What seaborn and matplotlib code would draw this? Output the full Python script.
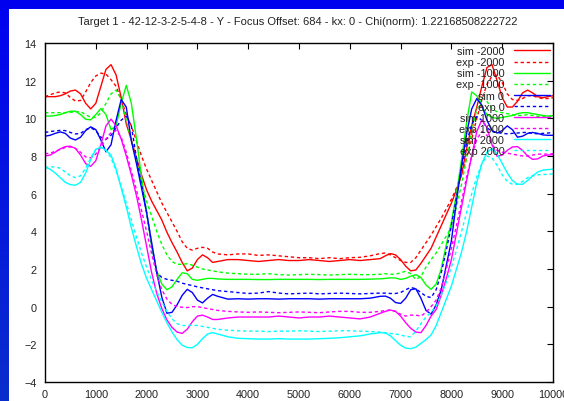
import numpy as np
import matplotlib
matplotlib.use("Agg")
import matplotlib.pyplot as plt
from matplotlib.colors import LinearSegmentedColormap
from matplotlib.patches import Rectangle
import seaborn as sns

TITLE = "Target 1 - 42-12-3-2-5-4-8 - Y - Focus Offset: 684 - kx: 0 - Chi(norm): 1.22168508222722"

# scan position (nm); finer sampling near the edges of the trench
x_pos = [0, 100, 200, 300, 400, 500, 600, 700, 800, 900, 1000, 1100, 1200, 1300, 1400, 1500, 1600,
         1700, 1800, 1900, 2000, 2100, 2200, 2300, 2400, 2500, 2600, 2700, 2800, 2900, 3000, 3100,
         3200, 3300, 3400,
         3600, 3800, 4000, 4200, 4400, 4600, 4800, 5000, 5200, 5400, 5600, 5800, 6000, 6200, 6400,
         6600, 6700, 6800, 6900, 7000, 7100, 7200, 7300, 7400, 7500, 7600, 7700, 7800, 7900, 8000,
         8100, 8200, 8300, 8400, 8500, 8600, 8700, 8800, 8900, 9000, 9100, 9200, 9300, 9400, 9500,
         9600, 9700, 9800, 9900, 10000]

sim_m2000 = [11.15, 11.15, 11.15, 11.2, 11.3, 11.45, 11.5, 11.3, 10.8, 10.5, 10.8, 11.7, 12.6, 12.85, 12.3,
             11.1, 9.7, 8.85, 7.9, 7.0, 6.2, 5.6, 5.1, 4.6, 3.95, 3.4, 2.9, 2.35, 1.9, 2.05, 2.5, 2.75,
             2.6, 2.35, 2.4,
             2.5, 2.5, 2.45, 2.4, 2.45, 2.5, 2.45, 2.45, 2.5, 2.45, 2.4, 2.45, 2.5, 2.45, 2.5,
             2.55, 2.7, 2.82, 2.75, 2.5, 2.15, 1.9, 1.95, 2.3, 2.7, 3.1, 3.7, 4.3, 4.9, 5.5, 6.2, 7.0,
             8.4, 9.6, 10.6, 11.7, 12.7, 12.85, 12.0, 11.1, 10.6, 10.6, 10.9, 11.35, 11.5, 11.35, 11.15,
             11.1, 11.15, 11.2]
exp_m2000 = [11.15, 11.25, 11.35, 11.4, 11.35, 11.1, 10.92, 10.95, 11.4, 11.9, 12.25, 12.4, 12.35, 12.05,
             11.7, 11.0, 10.2, 9.6, 8.8, 8.0, 7.3, 6.7, 6.1, 5.5, 5.0, 4.5, 4.0, 3.45, 3.1, 3.0, 3.1,
             3.15, 3.1, 2.9, 2.8,
             2.75, 2.8, 2.8, 2.72, 2.75, 2.7, 2.65, 2.6, 2.6, 2.55, 2.6, 2.55, 2.6, 2.62, 2.7,
             2.82, 2.85, 2.75, 2.6, 2.45, 2.35, 2.35, 2.6, 3.0, 3.4, 3.8, 4.25, 4.7, 5.2, 5.7, 6.3, 7.0,
             7.9, 8.9, 10.0, 11.0, 11.8, 12.25, 12.3, 11.9, 11.3, 11.0, 10.95, 11.05, 11.2, 11.2, 11.1,
             11.05, 11.05, 11.1]
sim_m1000 = [10.12, 10.12, 10.15, 10.2, 10.3, 10.38, 10.38, 10.2, 9.95, 9.92, 10.2, 10.52, 10.2, 9.4, 9.6,
             10.8, 11.75, 10.8, 8.9, 6.9, 5.0, 3.2, 1.9, 1.2, 0.9, 1.05, 1.45, 1.8, 1.75, 1.45, 1.4,
             1.45, 1.5, 1.5, 1.47,
             1.45, 1.45, 1.45, 1.44, 1.44, 1.45, 1.45, 1.45, 1.45, 1.44, 1.45, 1.45, 1.45, 1.45, 1.46,
             1.48, 1.5, 1.53, 1.52, 1.45, 1.5, 1.62, 1.7, 1.55, 1.15, 0.92, 1.2, 2.0, 3.3, 4.5, 6.0, 7.8,
             9.8, 11.4, 11.2, 10.6, 10.2, 10.05, 10.0, 10.05, 10.1, 10.15, 10.25, 10.3, 10.3, 10.25,
             10.2, 10.15, 10.12, 10.14]
exp_m1000 = [10.3, 10.3, 10.3, 10.3, 10.3, 10.32, 10.35, 10.35, 10.2, 10.05, 10.05, 10.3, 10.8, 11.3, 11.5,
             11.0, 9.9, 8.8, 7.7, 6.6, 5.6, 4.8, 4.0, 3.3, 2.75, 2.4, 2.25, 2.25, 2.28, 2.2, 2.1, 2.0,
             1.95, 1.9, 1.85,
             1.78, 1.75, 1.72, 1.72, 1.75, 1.7, 1.68, 1.7, 1.72, 1.7, 1.68, 1.7, 1.72, 1.7, 1.7,
             1.72, 1.75, 1.72, 1.72, 1.8, 1.88, 1.75, 1.45, 1.6, 2.1, 2.5, 2.85, 3.3, 3.75, 4.2, 5.3,
             6.5, 7.9, 9.3, 10.5, 11.1, 10.9, 10.5, 10.35, 10.3, 10.25, 10.2, 10.15, 10.15, 10.2, 10.15,
             10.1, 10.1, 10.1, 10.12]
sim_0 = [9.05, 9.1, 9.2, 9.28, 9.2, 8.95, 8.85, 9.0, 9.35, 9.55, 9.4, 8.85, 8.22, 8.6, 9.9, 11.0, 10.6,
         8.8, 7.6, 6.3, 5.0, 3.4, 1.8, 0.5, -0.35, -0.3, 0.1, 0.6, 0.92, 0.75, 0.35, 0.2, 0.45, 0.65,
         0.55,
         0.4, 0.42, 0.4, 0.42, 0.42, 0.4, 0.42, 0.42, 0.42, 0.4, 0.42, 0.42, 0.42, 0.42, 0.45,
         0.55, 0.56, 0.45, 0.22, 0.17, 0.45, 0.9, 0.95, 0.45, -0.2, -0.4, 0.1, 0.9, 2.2, 3.5, 5.6, 7.5,
         9.2, 10.5, 11.05, 10.7, 9.9, 9.35, 9.22, 9.35, 9.6, 9.4, 9.0, 9.05, 9.2, 9.25, 9.2, 9.12, 9.1,
         9.1]
exp_0 = [9.25, 9.3, 9.33, 9.36, 9.35, 9.25, 9.17, 9.2, 9.4, 9.5, 9.35, 9.0, 8.88, 9.1, 9.5, 9.9, 10.12,
         9.6, 7.9, 6.5, 5.0, 3.3, 1.8, 1.55, 1.45, 1.4, 1.35, 1.25, 1.18, 1.12, 1.05, 1.0, 0.95, 0.9,
         0.85,
         0.8, 0.75, 0.7, 0.72, 0.8, 0.72, 0.68, 0.7, 0.72, 0.68, 0.7, 0.72, 0.7, 0.68, 0.7,
         0.72, 0.72, 0.7, 0.7, 0.75, 0.9, 1.02, 0.95, 0.75, 0.55, 0.48, 0.9, 1.8, 3.0, 4.3, 5.8, 7.3,
         8.7, 9.7, 10.1, 9.9, 9.5, 9.3, 9.25, 9.2, 9.18, 9.2, 9.22, 9.25, 9.25, 9.2, 9.18, 9.2, 9.22,
         9.25]
sim_1000 = [8.0, 8.05, 8.2, 8.38, 8.5, 8.52, 8.4, 8.05, 7.6, 7.45, 7.75, 8.6, 9.6, 9.96, 9.6, 8.9, 8.0,
            7.0, 5.9, 4.6, 3.2, 1.8, 0.7, -0.1, -0.7, -1.1, -1.35, -1.42, -1.2, -0.8, -0.5, -0.45,
            -0.55, -0.68, -0.68,
            -0.6, -0.55, -0.55, -0.55, -0.55, -0.5, -0.55, -0.6, -0.55, -0.55, -0.5, -0.55, -0.6,
            -0.65, -0.55,
            -0.35, -0.25, -0.18, -0.25, -0.5, -0.85, -1.15, -1.35, -1.38, -1.0, -0.5, -0.15, 0.6, 1.5,
            2.5, 3.9, 5.3, 6.7, 8.0, 9.3, 9.93, 9.5, 8.6, 7.98, 8.05, 8.3, 8.48, 8.5, 8.3, 8.0, 7.82,
            7.85, 8.0, 8.05, 8.07]
exp_1000 = [8.12, 8.15, 8.25, 8.35, 8.45, 8.48, 8.4, 8.2, 7.95, 7.9, 8.1, 8.5, 8.9, 9.25, 9.35, 9.0, 8.2,
            7.2, 6.2, 5.1, 4.0, 2.8, 1.7, 0.9, 0.4, 0.12, 0.0, -0.03, -0.05, 0.0, 0.0, -0.05, -0.1,
            -0.15, -0.2,
            -0.25, -0.28, -0.3, -0.28, -0.3, -0.32, -0.3, -0.28, -0.3, -0.32, -0.28, -0.25, -0.25,
            -0.3, -0.3,
            -0.25, -0.2, -0.18, -0.25, -0.4, -0.5, -0.45, -0.45, -0.5, -0.3, 0.0, 0.35, 1.0, 2.0, 3.1,
            4.3, 5.6, 6.9, 8.0, 8.9, 9.3, 9.1, 8.6, 8.3, 8.2, 8.15, 8.1, 8.05, 8.0, 8.0, 8.05, 8.1, 8.1,
            8.1, 8.12]
sim_2000 = [7.4, 7.3, 7.1, 6.85, 6.6, 6.48, 6.45, 6.6, 7.1, 7.8, 8.35, 8.48, 8.3, 8.05, 7.3, 6.3, 5.3,
            4.2, 3.2, 2.25, 1.5, 0.9, 0.3, -0.3, -0.85, -1.35, -1.75, -2.05, -2.17, -2.18, -2.0, -1.7,
            -1.45, -1.38, -1.45,
            -1.6, -1.68, -1.7, -1.72, -1.72, -1.7, -1.72, -1.72, -1.72, -1.7, -1.68, -1.65, -1.6,
            -1.55, -1.45,
            -1.38, -1.4, -1.55, -1.8, -2.05, -2.2, -2.23, -2.15, -1.95, -1.75, -1.5, -1.0, -0.3, 0.4,
            1.1, 2.0, 2.9, 4.0, 5.3, 6.6, 7.6, 8.2, 8.4, 8.1, 7.6, 7.1, 6.7, 6.5, 6.5, 6.7, 6.95, 7.15,
            7.25, 7.28, 7.3]
exp_2000 = [7.4, 7.42, 7.42, 7.35, 7.15, 6.95, 6.85, 6.95, 7.35, 7.9, 8.35, 8.45, 8.3, 7.9, 7.2, 6.4,
            5.5, 4.6, 3.7, 2.85, 2.1, 1.4, 0.8, 0.25, -0.25, -0.65, -0.9, -1.0, -1.0, -0.98, -1.0,
            -1.05, -1.1, -1.15, -1.2,
            -1.25, -1.28, -1.3, -1.3, -1.32, -1.3, -1.3, -1.28, -1.3, -1.32, -1.3, -1.28, -1.28,
            -1.3, -1.32,
            -1.35, -1.38, -1.42, -1.45, -1.5, -1.58, -1.6, -1.3, -0.9, -0.55, -0.3, 0.05, 0.6, 1.3,
            2.1, 3.0, 4.0, 5.0, 6.0, 6.9, 7.6, 8.0, 7.9, 7.5, 7.0, 6.65, 6.5, 6.5, 6.65, 6.85, 6.95,
            7.0, 7.02, 7.02, 7.05]

labels = ["sim -2000", "exp -2000", "sim -1000", "exp -1000", "sim 0", "exp 0",
          "sim 1000", "exp 1000", "sim 2000", "exp 2000"]
profiles = [sim_m2000, exp_m2000, sim_m1000, exp_m1000, sim_0, exp_0,
            sim_1000, exp_1000, sim_2000, exp_2000]
colors = ["#ff0000", "#ff0000", "#00ff00", "#00ff00", "#0000ff", "#0000ff",
          "#ff00ff", "#ff00ff", "#00ffff", "#00ffff"]

for name, prof in zip(labels, profiles):
    if len(prof) != len(x_pos):
        raise ValueError(f"{name}: {len(prof)} values for {len(x_pos)} positions")

sns.set_style("white")
plt.rcParams["font.family"] = ["Liberation Sans", "DejaVu Sans"]
plt.rcParams["text.color"] = "#222222"

W, H = 564, 402
fig = plt.figure(figsize=(W / 100, H / 100), dpi=100)

# blue slide backdrop with the white plotting card on top
bg = fig.add_axes([0, 0, 1, 1], zorder=-10)
bg.imshow(np.linspace(0, 1, 256).reshape(-1, 1), aspect="auto", extent=[0, 1, 0, 1],
          cmap=LinearSegmentedColormap.from_list("slide", ["#0000f0", "#0a2ecc"]))
bg.axis("off")
fig.add_artist(Rectangle((9 / W, 0), 1, 1 - 10 / H, transform=fig.transFigure,
                         facecolor="white", edgecolor="none", zorder=-5))

ax = fig.add_axes([45 / W, 19 / H, 508 / W, 339 / H])
ax.set_facecolor("white")

for name, prof, col in zip(labels, profiles, colors):
    ls = "-" if name.startswith("sim") else (0, (2.4, 2.0))
    sns.lineplot(x=x_pos, y=prof, ax=ax, color=col, linestyle=ls, linewidth=1.0,
                 label=name, errorbar=None)

ax.set_xlim(0, 10000)
ax.set_ylim(-4, 14)
ax.set_xticks(range(0, 10001, 1000))
ax.set_yticks(range(-4, 15, 2))
ax.set_xlabel("")
ax.set_ylabel("")
for sp in ax.spines.values():
    sp.set_color("black")
    sp.set_linewidth(1.0)
ax.tick_params(direction="in", length=4, width=0.8, top=True, right=True,
               labelsize=7.8, labelcolor="#222222", color="black")
ax.tick_params(axis="y", pad=6)
ax.tick_params(axis="x", pad=5)

fig.text((45 + 551) / 2 / W, 1 - 22 / H, TITLE, ha="center", va="center", fontsize=8.0)

ax.legend(loc="upper right", bbox_to_anchor=(1, 1), frameon=False, markerfirst=False,
          fontsize=7.8, handlelength=3.3, handletextpad=0.9, labelspacing=0.1,
          borderaxespad=0.2, borderpad=0.1)

fig.savefig("out.png", dpi=100)
